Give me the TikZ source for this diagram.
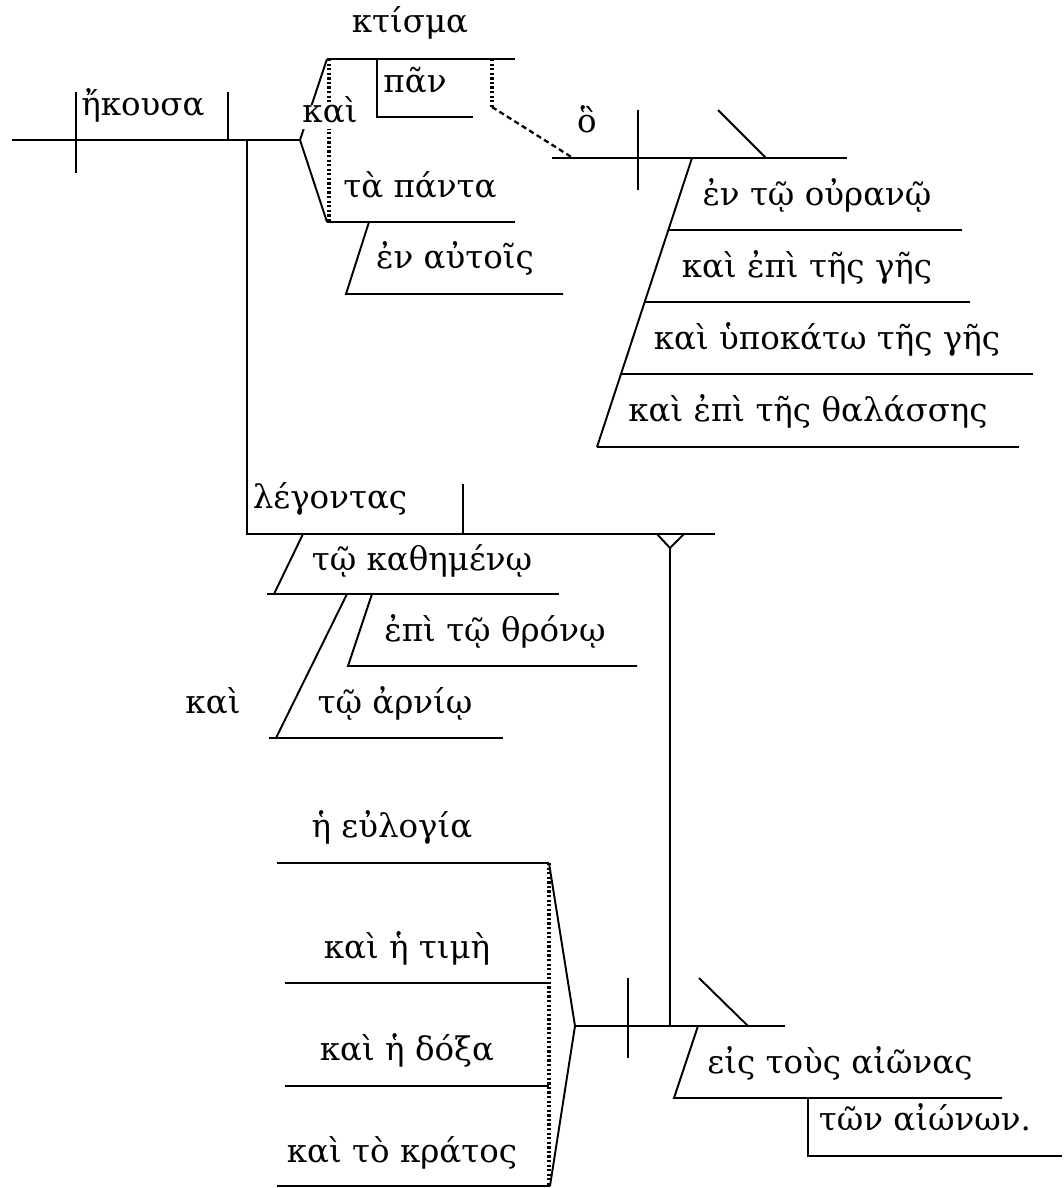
\documentclass[tikz,border=0pt]{standalone}
\usepackage{fontspec}
\setmainfont{DejaVu Serif}

\begin{document}
\begin{tikzpicture} [
      x = 0.02cm, y = -0.02cm,
      line width = 1.1pt,
      every node/.style = {inner sep = 0, font = \fontsize{18.5}{20}\selectfont, text height = 1.6ex, text depth = .3ex},
      blank/.style = {fill = white, inner sep = 2pt},
      dotline/.style = {line width = 2pt, dash pattern = on 1.3pt off 1.3pt},
      dashline/.style = {dash pattern = on 3pt off 2pt, line width = 1.3pt}
      ]
  \useasboundingbox (0,0) rectangle (1063,1188);

  % main clause
  \coordinate (base0) at (12,140);
  \coordinate (sv) at (76,140);
  \coordinate (vo) at (228,140);
  \coordinate (ptc) at (247,140);
  \coordinate (fork) at (300,140);
  \draw (base0) -- (fork);
  \draw (sv) ++(0,-48) -- ++(0,81);
  \draw (vo) ++(0,-48) -- (vo);
  \node (verb) at (143,110) {ἤκουσα};

  % compound object
  \coordinate (obj1) at (327,59);
  \coordinate (obj2) at (327,222);
  \draw (obj1) -- (fork) -- (obj2);
  \draw (obj1) -- (515,59);
  \draw (obj2) -- (515,222);
  \draw [dotline] (329,59) -- (329,222);
  \node [blank] (and1) at (330,117) {καὶ};
  \node (ktisma) at (410,27) {κτίσμα};
  \node (panta) at (420,192) {τὰ πάντα};
  \coordinate (pan0) at (377,59);
  \draw (pan0) -- ++(0,58) -- ++(96,0);
  \node (pan) at (415,87) {πᾶν};
  \coordinate (autois) at (369,222);
  \draw (autois) -- (346,294) -- (563,294);
  \node (enautois) at (455,263) {ἐν αὐτοῖς};

  % relative clause
  \coordinate (rel0) at (552,158);
  \coordinate (relsv) at (638,158);
  \coordinate (relpp) at (692,158);
  \coordinate (relob) at (766,158);
  \coordinate (rel1) at (847,158);
  \draw (rel0) -- (rel1);
  \draw (relsv) ++(0,-48) -- ++(0,80);
  \draw (relob) -- ++(-48,-48);
  \node (ho) at (587,127) {ὃ};
  \coordinate (link0) at (492,59);
  \coordinate (link1) at (492,107);
  \coordinate (link2) at (573,158);
  \draw [dotline] (link0) -- (link1);
  \draw [dashline] (link1) -- (link2);

  \coordinate (pp4) at (597,447);
  \draw (relpp) -- (pp4);
  \draw (668,230) -- (962,230);
  \draw (644,302) -- (970,302);
  \draw (621,374) -- (1033,374);
  \draw (pp4) -- (1019,447);
  \node (ouranos) at (817,200) {ἐν τῷ οὐρανῷ};
  \node (ges) at (807,272) {καὶ ἐπὶ τῆς γῆς};
  \node (hypo) at (827,344) {καὶ ὑποκάτω τῆς γῆς};
  \node (thal) at (808,416) {καὶ ἐπὶ τῆς θαλάσσης};

  % participle
  \coordinate (ptc1) at (247,534);
  \coordinate (ystem) at (670,548);
  \coordinate (dox) at (670,1026);
  \draw (ptc) -- (ptc1) -- (715,534);
  \draw (463,484) -- (463,534);
  \draw (657,534) -- (ystem) -- (684,534);
  \draw (ystem) -- (dox);
  \node (legontas) at (330,503) {λέγοντας};

  \draw (303,534) -- (274,594);
  \draw (267,594) -- (559,594);
  \node (kath) at (422,565) {τῷ καθημένῳ};
  \draw (372,594) -- (348,666) -- (637,666);
  \node (thronos) at (495,636) {ἐπὶ τῷ θρόνῳ};
  \draw (347,594) -- (276,738);
  \draw (269,738) -- (503,738);
  \node (arnion) at (395,708) {τῷ ἀρνίῳ};
  \node (and2) at (213,708) {καὶ};

  % doxology
  \coordinate (s1) at (549,863);
  \coordinate (s4) at (550,1186);
  \coordinate (doxfork) at (575,1026);
  \draw (277,863) -- (s1);
  \draw (285,983) -- (549,983);
  \draw (285,1086) -- (549,1086);
  \draw (277,1186) -- (s4);
  \draw [dotline] (s1) -- (549,1186);
  \draw (s1) -- (doxfork) -- (s4);
  \node (eulogia) at (392,832) {ἡ εὐλογία};
  \node (time) at (407,953) {καὶ ἡ τιμὴ};
  \node (doxa) at (407,1055) {καὶ ἡ δόξα};
  \node (kratos) at (402,1157) {καὶ τὸ κράτος};

  \draw (doxfork) -- (785,1026);
  \draw (628,978) -- (628,1058);
  \draw (748,1026) -- ++(-49,-48);
  \coordinate (eis) at (698,1026);
  \draw (eis) -- (674,1098) -- (1002,1098);
  \node (aionas) at (840,1068) {εἰς τοὺς αἰῶνας};
  \draw (808,1098) -- (808,1156) -- (1062,1156);
  \node (aionon) at (925,1125) {τῶν αἰώνων.};
\end{tikzpicture}
\end{document}
